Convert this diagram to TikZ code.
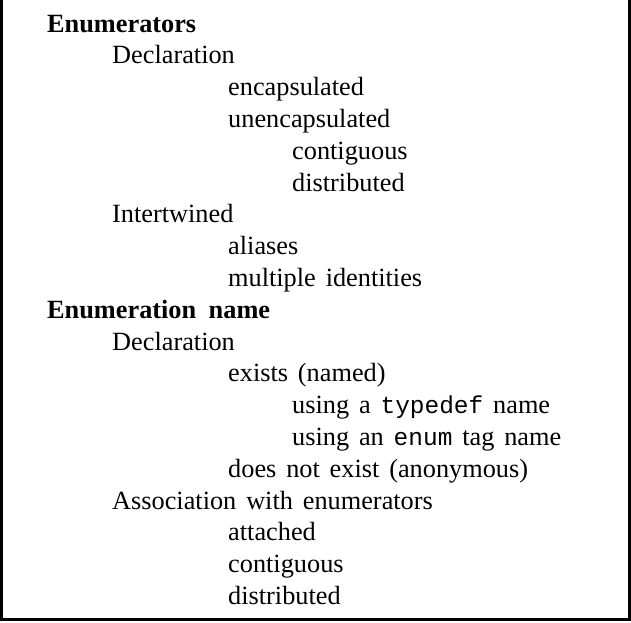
\documentclass[tikz,border=0pt]{standalone}
\usepackage{fontspec}
\setmainfont[WordSpace=1.5,BoldFeatures={WordSpace=1.9}]{Liberation Serif}
\setmonofont[Scale=0.93]{Liberation Mono}
\usetikzlibrary{positioning}

\begin{document}
\begin{tikzpicture}[x=1pt,y=1pt,node distance=31.8pt,
	every node/.style={inner sep=0pt,anchor=base west,
		font=\fontsize{26.3}{31.8}\selectfont},
	head node/.style={font=\fontsize{26.3}{31.8}\selectfont\bfseries},
	item node/.style={}]
	
	\useasboundingbox (0,0) rectangle (631,-622);
	\draw[line width=2.6pt] (1.5,0) |- (629.7,-619.6) -- (629.7,0);
	
	\node[head node] (enums) at (47,-32) {Enumerators};
	\node[item node] (decla) [below right=31.8pt and 65pt of enums.base west,anchor=base west] {Declaration};
	\node[item node] (encap) [below right=31.8pt and 116pt of decla.base west,anchor=base west] {encapsulated};
	\node[item node] (unenc) [below=of encap.base west,anchor=base west] {unencapsulated};
	\node[item node] (contga) [below right=31.8pt and 64pt of unenc.base west,anchor=base west] {contiguous};
	\node[item node] (distra) [below=of contga.base west,anchor=base west] {distributed};
	\node[item node] (intw) [below left=31.8pt and 180pt of distra.base west,anchor=base west] {Intertwined};
	\node[item node] (alias) [below right=31.8pt and 116pt of intw.base west,anchor=base west] {aliases};
	\node[item node] (multi) [below=of alias.base west,anchor=base west] {multiple identities};
	
	\node[head node] (ename) [below left=31.8pt and 181pt of multi.base west,anchor=base west] {Enumeration name};
	\node[item node] (declb) [below right=31.8pt and 65pt of ename.base west,anchor=base west] {Declaration};
	\node[item node] (exist) [below right=31.8pt and 116pt of declb.base west,anchor=base west] {exists (named)};
	\node[item node] (tdef) [below right=31.8pt and 64pt of exist.base west,anchor=base west] {using a \texttt{typedef} name};
	\node[item node] (etag) [below=of tdef.base west,anchor=base west] {using an \texttt{enum} tag name};
	\node[item node] (anon) [below left=31.8pt and 64pt of etag.base west,anchor=base west] {does not exist (anonymous)};
	\node[item node] (assoc) [below left=31.8pt and 116pt of anon.base west,anchor=base west] {Association with enumerators};
	\node[item node] (attch) [below right=31.8pt and 116pt of assoc.base west,anchor=base west] {attached};
	\node[item node] (contgb) [below=of attch.base west,anchor=base west] {contiguous};
	\node[item node] (distrb) [below=of contgb.base west,anchor=base west] {distributed};
\end{tikzpicture}
\end{document}
